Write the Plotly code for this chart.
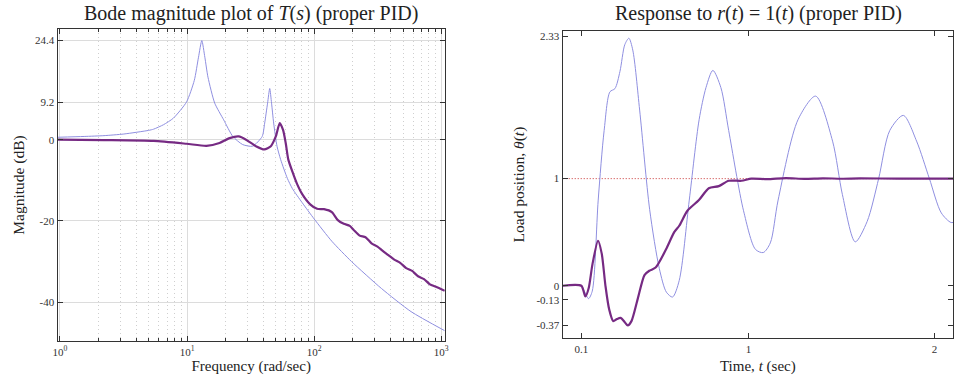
import plotly.graph_objects as go

# ---------------- data: Bode magnitude (left) ----------------
freq_open = [0.956, 1.55, 2.22, 3.18, 4.99, 5.46, 6.53, 7.80, 9.91, 11.4, 12.3, 13.06,
             13.8, 14.6, 16.5, 19.4, 22.9, 27.4, 32.8, 39.0, 40.8, 43.0, 44.7, 46.2,
             48.0, 51.0, 54.5, 61.5, 67.3, 80.5, 100.0, 137.8, 197.0, 338.0, 578.0, 1064.0]
mag_open = [0.6, 0.8, 1.0, 1.4, 2.3, 2.6, 3.7, 5.3, 9.3, 14.6, 20.3, 24.4,
            20.3, 15.4, 9.0, 4.9, 0.8, -1.2, -1.6, 0.8, 4.1, 9.0, 12.6, 9.0,
            4.1, -1.6, -4.9, -9.5, -12.0, -15.5, -19.5, -25.0, -30.0, -36.6, -42.3, -47.0]

freq_pid = [0.956, 2.22, 5.46, 9.91, 14.2, 18.0, 21.6, 25.5, 29.1, 34.8, 40.5, 45.6,
            49.9, 53.6, 56.9, 59.7, 62.6, 67.3, 73.6, 80.5, 93.0, 105.4, 119.4, 137.8,
            153.5, 171.0, 190.5, 204.7, 228.0, 253.6, 282.6, 314.8, 344.4, 383.6, 426.6,
            475.3, 529.7, 590.2, 656.4, 731.4, 814.7, 907.8, 1064.0]
mag_pid = [0.0, -0.1, -0.3, -1.0, -1.5, -0.8, 0.4, 0.8, 0.0, -1.6, -2.4, -1.6,
           0.8, 4.1, 2.4, -0.8, -4.9, -7.8, -11.0, -13.4, -15.9, -17.0, -17.1, -17.8,
           -19.8, -20.7, -21.2, -22.2, -23.6, -24.0, -25.5, -26.3, -27.3, -28.4, -29.5,
           -30.3, -31.6, -32.3, -33.6, -34.3, -35.6, -36.2, -37.2]

mag_ticks = [24.4, 9.2, 0, -20, -40]
freq_ticks = [1, 10, 100, 1000]
freq_ticktext = ["10<sup>0</sup>", "10<sup>1</sup>", "10<sup>2</sup>", "10<sup>3</sup>"]
freq_minor_ticks = [m * d for d in [1, 10, 100] for m in range(2, 10)]

# ---------------- data: step response (right) ----------------
t_open = [0.0, 0.1, 0.116, 0.139, 0.159, 0.191, 0.223, 0.254, 0.281, 0.308, 0.334, 0.356,
          0.377, 0.414, 0.468, 0.52, 0.558, 0.591, 0.627, 0.681, 0.734, 0.771, 0.808,
          0.851, 0.893, 0.973, 1.037, 1.079, 1.117, 1.159, 1.266, 1.361, 1.452, 1.505,
          1.574, 1.638, 1.70, 1.76, 1.833, 1.904, 1.973, 2.037, 2.09, 2.12]
y_open = [0.0, 0.0, -0.05, -0.12, -0.05, 0.8, 1.45, 1.81, 1.84, 2.0, 2.25, 2.31,
          2.2, 1.64, 0.71, 0.16, -0.06, -0.105, 0.05, 0.8, 1.55, 1.85, 2.01,
          1.85, 1.45, 0.7, 0.34, 0.31, 0.4, 0.8, 1.55, 1.77, 1.35, 0.85,
          0.41, 0.6, 1.0, 1.45, 1.59, 1.35, 1.0, 0.68, 0.59, 0.6]

t_pid = [0.0, 0.1, 0.122, 0.14, 0.16, 0.19, 0.21, 0.23, 0.25, 0.272, 0.292, 0.312,
         0.334, 0.35, 0.37, 0.404, 0.44, 0.466, 0.5, 0.556, 0.6, 0.627, 0.671, 0.733,
         0.786, 0.84, 0.893, 0.962, 1.015, 1.1, 1.2, 1.3, 1.4, 1.5, 1.6, 1.8, 2.12]
y_pid = [0.0, 0.0, -0.1, -0.02, 0.2, 0.42, 0.3, 0.0, -0.22, -0.33, -0.31, -0.3,
         -0.34, -0.37, -0.33, -0.12, 0.1, 0.14, 0.17, 0.34, 0.5, 0.56, 0.7, 0.8,
         0.91, 0.93, 0.98, 0.98, 1.0, 0.995, 1.005, 0.998, 1.003, 0.999, 1.002, 1.0, 1.0]

ref_value = 1
resp_ticks = [2.33, 1, 0, -0.13, -0.37]
time_ticks = [0.1, 1, 2]

# ---------------- styling ----------------
FONT = "Liberation Serif, Times New Roman, serif"
DARK = "#762a83"
LIGHT = "#8f8fe0"
FREQ_RANGE = [-0.0195, 3.028]

fig = go.Figure()

fig.add_trace(go.Scatter(x=freq_open, y=mag_open, mode="lines", xaxis="x", yaxis="y",
                         line=dict(color=LIGHT, width=1, shape="spline", smoothing=0.6),
                         showlegend=False))
fig.add_trace(go.Scatter(x=freq_pid, y=mag_pid, mode="lines", xaxis="x", yaxis="y",
                         line=dict(color=DARK, width=2.2, shape="spline", smoothing=0.6),
                         showlegend=False))
# invisible companion trace so the top (mirrored) frequency axis is drawn
fig.add_trace(go.Scatter(x=freq_pid, y=mag_pid, mode="lines", xaxis="x3", yaxis="y",
                         opacity=0, hoverinfo="skip", showlegend=False,
                         line=dict(width=0)))
fig.add_trace(go.Scatter(x=t_open, y=y_open, mode="lines", xaxis="x2", yaxis="y2",
                         line=dict(color=LIGHT, width=1, shape="spline", smoothing=0.8),
                         showlegend=False))
fig.add_trace(go.Scatter(x=t_pid, y=y_pid, mode="lines", xaxis="x2", yaxis="y2",
                         line=dict(color=DARK, width=2.2, shape="spline", smoothing=0.7),
                         showlegend=False))

fig.add_shape(type="line", xref="x2 domain", yref="y2", x0=0, x1=1,
              y0=ref_value, y1=ref_value,
              line=dict(color="#c83030", width=1, dash="1px,2px"),
              layer="below")

axis_common = dict(showline=True, linecolor="#333", linewidth=1.3, mirror="ticks",
                   ticks="inside", ticklen=5, tickcolor="#333", zeroline=False,
                   tickfont=dict(family=FONT, size=11, color="#333"))

fig.update_layout(
    width=957, height=375,
    margin=dict(l=0, r=0, t=0, b=0),
    paper_bgcolor="white", plot_bgcolor="white",
    font=dict(family=FONT, color="#222"),
    xaxis=dict(domain=[53/957, 444/957], anchor="y", type="log",
               range=FREQ_RANGE, tickvals=freq_ticks, ticktext=freq_ticktext,
               showgrid=True, gridcolor="#dcdcdc", gridwidth=1,
               minor=dict(tickmode="array", tickvals=freq_minor_ticks,
                          ticks="inside", ticklen=3, tickcolor="#333",
                          showgrid=True, gridcolor="#cfcfcf", griddash="1px,3px",
                          gridwidth=1),
               title=dict(text="Frequency (rad/sec)", standoff=7,
                          font=dict(family=FONT, size=15, color="#222")),
               **axis_common),
    xaxis3=dict(overlaying="x", anchor="y", side="top", type="log",
                range=FREQ_RANGE, tickvals=freq_ticks, showticklabels=False,
                ticks="inside", ticklen=5, tickcolor="#333", showgrid=False,
                showline=False, zeroline=False,
                minor=dict(tickmode="array", tickvals=freq_minor_ticks,
                           ticks="inside", ticklen=3, tickcolor="#333", showgrid=False)),
    yaxis=dict(domain=[1 - 343/375, 1 - 28/375], anchor="x",
               range=[-49.6, 27.3], tickvals=mag_ticks, ticktext=[str(v) for v in mag_ticks],
               showgrid=True, gridcolor="#dcdcdc", gridwidth=1,
               title=dict(text="Magnitude (dB)", standoff=6,
                          font=dict(family=FONT, size=15.5, color="#222")),
               **axis_common),
    xaxis2=dict(domain=[563/957, 1.0], anchor="y2", range=[0, 2.1],
                tickvals=time_ticks, ticktext=[str(v) for v in time_ticks],
                showgrid=False,
                title=dict(text="Time, <i>t</i> (sec)", standoff=7,
                           font=dict(family=FONT, size=15, color="#222")),
                **axis_common),
    yaxis2=dict(domain=[1 - 340/375, 1 - 30/375], anchor="x2",
                range=[-0.49, 2.38], tickvals=resp_ticks,
                ticktext=[str(v) for v in resp_ticks], showgrid=False,
                title=dict(text="Load position, <i>θ</i>(<i>t</i>)", standoff=8,
                           font=dict(family=FONT, size=15.5, color="#222")),
                **axis_common),
    annotations=[
        dict(text="Bode magnitude plot of <i>T</i>(<i>s</i>) (proper PID)",
             x=(53 + 444) / 2 / 957, y=1 - 13/375, xref="paper", yref="paper",
             showarrow=False, font=dict(family=FONT, size=20, color="#222"),
             xanchor="center", yanchor="middle"),
        dict(text="Response to <i>r</i>(<i>t</i>) = 1(<i>t</i>) (proper PID)",
             x=761/957, y=1 - 13/375, xref="paper", yref="paper",
             showarrow=False, font=dict(family=FONT, size=20, color="#222"),
             xanchor="center", yanchor="middle"),
    ],
)

fig.write_html("out.html")
